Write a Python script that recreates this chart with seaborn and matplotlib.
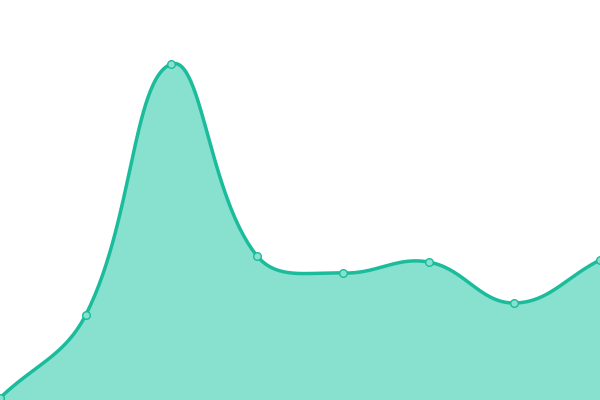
import numpy as np
import pandas as pd
import matplotlib
matplotlib.use("Agg")
import matplotlib.pyplot as plt
import seaborn as sns

# values (axis hidden, 0..400 scale)
positions = [0, 1, 2, 3, 4, 5, 6, 7]
values = [2, 85, 336, 144, 127, 138, 97, 140]

line_color = "#1abc9c"
fill_color = "#88e0ce"

W, H = 600, 400
XMAX, YMAX = 7, 400


def spline_curve(x, y, tension=0.4, n=60):
    # tension spline like Chart.js, computed in pixel space
    px = np.asarray(x, float) * W / XMAX
    py = np.asarray(y, float) * H / YMAX
    k = len(px)
    cp_prev = np.zeros((k, 2))
    cp_next = np.zeros((k, 2))
    for i in range(k):
        a = (px[max(i - 1, 0)], py[max(i - 1, 0)])
        b = (px[i], py[i])
        c = (px[min(i + 1, k - 1)], py[min(i + 1, k - 1)])
        d01 = np.hypot(b[0] - a[0], b[1] - a[1])
        d12 = np.hypot(c[0] - b[0], c[1] - b[1])
        tot = d01 + d12
        s01 = d01 / tot if tot else 0
        s12 = d12 / tot if tot else 0
        fa, fb = tension * s01, tension * s12
        cp_prev[i] = (b[0] - fa * (c[0] - a[0]), b[1] - fa * (c[1] - a[1]))
        cp_next[i] = (b[0] + fb * (c[0] - a[0]), b[1] + fb * (c[1] - a[1]))
    cp_prev[:, 0] = np.clip(cp_prev[:, 0], 0, W)
    cp_next[:, 0] = np.clip(cp_next[:, 0], 0, W)
    cp_prev[:, 1] = np.clip(cp_prev[:, 1], 0, H)
    cp_next[:, 1] = np.clip(cp_next[:, 1], 0, H)
    xs, ys = [], []
    t = np.linspace(0, 1, n)
    for i in range(k - 1):
        p0 = np.array([px[i], py[i]])
        p1 = cp_next[i]
        p2 = cp_prev[i + 1]
        p3 = np.array([px[i + 1], py[i + 1]])
        pts = ((1 - t)[:, None] ** 3 * p0 + 3 * ((1 - t) ** 2 * t)[:, None] * p1
               + 3 * ((1 - t) * t ** 2)[:, None] * p2 + (t ** 3)[:, None] * p3)
        xs.append(pts[:, 0])
        ys.append(pts[:, 1])
    return np.concatenate(xs) * XMAX / W, np.concatenate(ys) * YMAX / H


df = pd.DataFrame({"pos": positions, "value": values})
cx, cy = spline_curve(df["pos"], df["value"])
curve = pd.DataFrame({"pos": cx, "value": cy})

fig = plt.figure(figsize=(6, 4), dpi=100)
ax = fig.add_axes([0, 0, 1, 1])

ax.fill_between(curve["pos"], 0, curve["value"], color=fill_color, linewidth=0)
sns.lineplot(data=curve, x="pos", y="value", ax=ax, color=line_color, linewidth=2.5,
             sort=False, estimator=None)
sns.scatterplot(data=df, x="pos", y="value", ax=ax, s=30, color=fill_color,
                edgecolor=line_color, linewidth=1.0, zorder=5)

ax.set_xlim(0, XMAX)
ax.set_ylim(0, YMAX)
ax.axis("off")

fig.savefig("out.png", dpi=100)
